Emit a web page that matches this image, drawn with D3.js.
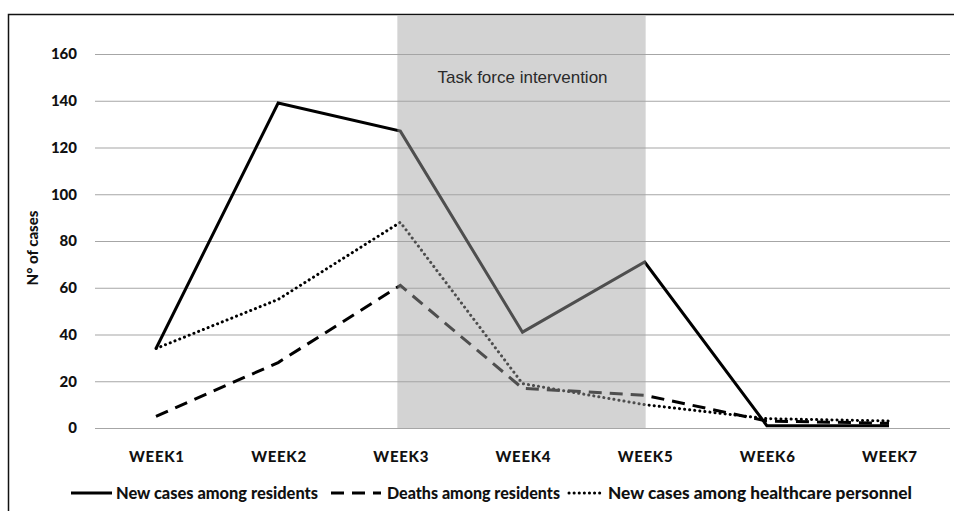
<!DOCTYPE html>
<html><head><meta charset="utf-8">
<script src="https://cdn.jsdelivr.net/npm/d3@7"></script>
<style>
body{margin:0;background:#fff;}
svg{display:block;}
</style></head>
<body>
<svg id="chart" width="954" height="511"></svg>
<script>
const weeks = ["WEEK1","WEEK2","WEEK3","WEEK4","WEEK5","WEEK6","WEEK7"];
const newCasesResidents = [34,139,127,41,71,1,1];
const deathsResidents = [5,28,61,17,14,3,2];
const newCasesHCP = [34,55,88,19,10,4,3];
const yTicks = [0,20,40,60,80,100,120,140,160];
const seriesNames = ["New cases among residents","Deaths among residents","New cases among healthcare personnel"];
const interventionStart = "WEEK3", interventionEnd = "WEEK5";
const interventionLabel = "Task force intervention";
const yTitle = "N° of cases";

const svg = d3.select("#chart");
const boldFont = "Lato,'Open Sans',sans-serif";

// frame
svg.append("path").attr("d","M8.5,511 L8.5,14.5 L954,14.5").attr("fill","none").attr("stroke","#111").attr("stroke-width",1.5);

const x = d3.scalePoint().domain(weeks).range([156,889]);
const y = d3.scaleLinear().domain([0,160]).range([428,54]);

// gridlines
const gy = svg.append("g").attr("transform","translate(95,0)")
  .call(d3.axisLeft(y).tickValues(yTicks).tickSize(-855).tickFormat(""));
gy.select(".domain").remove();
gy.selectAll(".tick line").attr("stroke","#a6a6a6").attr("stroke-width",1.2);

// y tick labels
svg.append("g").selectAll("text").data(yTicks).join("text")
  .attr("x",77).attr("y",d=>y(d)).attr("dy","0.35em").attr("text-anchor","end")
  .attr("font-family",boldFont).attr("font-weight",900).attr("font-size",15).attr("fill","#111")
  .text(d=>d);

// x labels
const gx = svg.append("g").attr("transform","translate(0,457)")
  .call(d3.axisBottom(x).tickSize(0).tickPadding(0));
gx.select(".domain").remove();
gx.selectAll("text").attr("font-family",boldFont).attr("font-weight",900).attr("font-size",15).attr("fill","#111")
  .attr("dy","0.35em").attr("textLength",55).attr("lengthAdjust","spacing");

// y title
svg.append("text").attr("transform","translate(38,248) rotate(-90)").attr("text-anchor","middle")
  .attr("font-family",boldFont).attr("font-weight",900).attr("font-size",15).attr("fill","#111")
  .text(yTitle);

// lines
const line = d3.line().x((d,i)=>x(weeks[i])).y(d=>y(d));
const styles = [
  {data:newCasesResidents, dash:null, cap:"butt"},
  {data:deathsResidents, dash:"13,8", cap:"butt"},
  {data:newCasesHCP, dash:"0.1,5", cap:"round"}
];
styles.forEach(s=>{
  svg.append("path").datum(s.data).attr("d",line).attr("fill","none")
    .attr("stroke","#000").attr("stroke-width",3).attr("stroke-linejoin","miter")
    .attr("stroke-linecap",s.cap).attr("stroke-dasharray",s.dash);
});

// intervention shading (overlay)
svg.append("rect").attr("x",x(interventionStart)-3).attr("y",16)
  .attr("width",x(interventionEnd)-x(interventionStart)+4).attr("height",y(0)-16)
  .attr("fill","#a2a2a2").attr("fill-opacity",0.48);
svg.append("text").attr("x",(x(interventionStart)+x(interventionEnd))/2).attr("y",77).attr("dy","0.35em")
  .attr("text-anchor","middle").attr("font-family","'Liberation Sans',Arial,sans-serif")
  .attr("font-size",17).attr("fill","#2a2a2a").text(interventionLabel);

// legend
const legendItems = [
  {name:seriesNames[0], x1:71, x2:112, tx:116, tw:202, dash:null, cap:"butt"},
  {name:seriesNames[1], x1:331, x2:381, tx:387, tw:173, dash:"13,8", cap:"butt"},
  {name:seriesNames[2], x1:569, x2:603, tx:608, tw:304, dash:"0.1,5", cap:"round"}
];
const lg = svg.append("g");
legendItems.forEach(it=>{
  lg.append("line").attr("x1",it.x1).attr("x2",it.x2).attr("y1",493).attr("y2",493)
    .attr("stroke","#000").attr("stroke-width",3).attr("stroke-dasharray",it.dash).attr("stroke-linecap",it.cap);
  lg.append("text").attr("x",it.tx).attr("y",493).attr("dy","0.35em")
    .attr("font-family",boldFont).attr("font-weight",900).attr("font-size",16).attr("fill","#111")
    .attr("textLength",it.tw).attr("lengthAdjust","spacingAndGlyphs")
    .text(it.name);
});
</script>
</body></html>
